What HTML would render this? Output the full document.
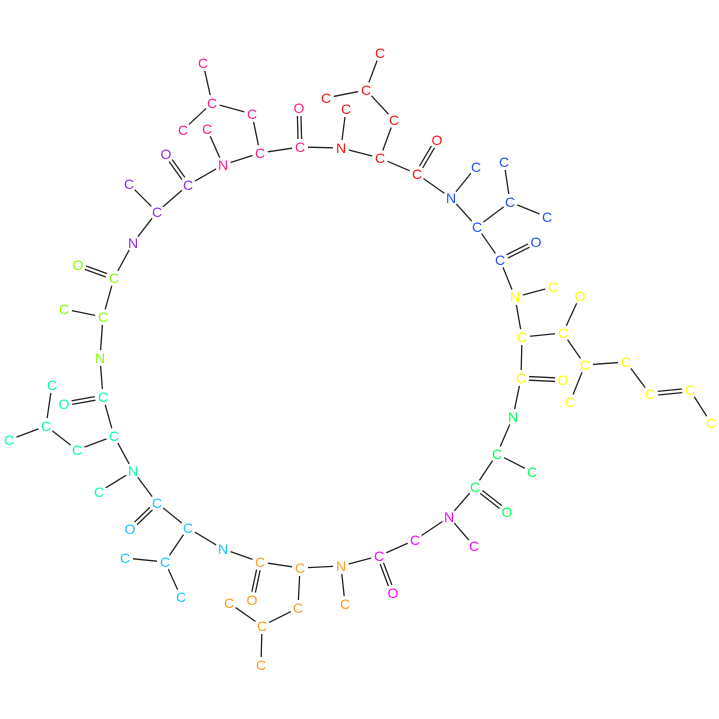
<!DOCTYPE html>
<html><head><meta charset="utf-8"><style>
html,body{margin:0;padding:0;background:#fff}
svg{display:block}
text{font-family:"Liberation Sans",sans-serif;font-size:14px}
</style></head><body>
<svg id="mol" width="719" height="719" viewBox="0 0 719 719"></svg>
<script>
const COL={p:'#ff1a8c',u:'#8a2be2',g:'#7fff00',c:'#00ffb4',b:'#1ec0ff',o:'#ff9a1e',m:'#ff00ff',gr:'#00ff50',y:'#ffff00',bl:'#1e50ff',r:'#ff1010'};
const atomIds=['pD1','pG','pD2','pB','pNMe','pN','pCa','pC','pO','uO','uC','uCa','uMe','uN','gC','gO','gCa','gMe','gN','cC','cO','cCa','cB','cG','cD1','cD2','cN','cMe','bC','bO','bCa','bN','bB','bG1','bG2','oC','oO','oCa','oN','oMe','oB','oG','oD1','oD2','mC','mO','mCa','mN','mMe','grC','grO','grCa','grMe','grN','yC','yO','yCa','yN','yNMe','yB','yBO','yG','yGMe','yD','yE','yZ','yH','blC','blO','blCa','blN','blNMe','blB','blG1','blG2','rC','rO','rCa','rN','rNMe','rB','rG','rD1','rD2'];
const atomX=[203,212,183,252,207,223,260,300,299,166,188,157,129,133,114,78,103,64,100,103,64,114,77,46,52,9,133,99,157,130,188,223,165,125,181,260,252,300,341,345,298,262,229,261,379,393,415,449,474,475,507,497,532,513,521,563,522,515,553,563,580,585,570,626,650,690,711,500,536,477,451,476,510,504,547,417,437,380,341,346,394,366,380,326];
const atomY=[63,103,130,114,129,165,153,147,108,154,185,212,184,243,278,265,317,309,358,397,404,436,450,426,385,440,471,492,503,529,528,549,562,558,597,562,600,568,566,604,608,626,603,665,556,593,540,517,546,487,512,454,472,417,378,380,337,297,287,333,296,365,402,362,394,390,423,260,242,227,198,167,202,162,217,174,140,158,148,109,120,90,53,98];
const atomEl=['C','C','C','C','C','N','C','C','O','O','C','C','C','N','C','O','C','C','N','C','O','C','C','C','C','C','N','C','C','O','C','N','C','C','C','C','O','C','N','C','C','C','C','C','C','O','C','N','C','C','O','C','C','N','C','O','C','N','C','C','O','C','C','C','C','C','C','C','O','C','N','C','C','C','C','C','O','C','N','C','C','C','C','C'];
const bonds=[['pD1','pG',1],['pG','pD2',1],['pG','pB',1],['pB','pCa',1],['pNMe','pN',1],['pN','pCa',1],['pCa','pC',1],['pC','pO',2],['pC','rN',1],['pN','uC',1],['uC','uO',2],['uC','uCa',1],['uCa','uMe',1],['uCa','uN',1],['uN','gC',1],['gC','gO',2],['gC','gCa',1],['gCa','gMe',1],['gCa','gN',1],['gN','cC',1],['cC','cO',2],['cC','cCa',1],['cCa','cB',1],['cB','cG',1],['cG','cD1',1],['cG','cD2',1],['cCa','cN',1],['cN','cMe',1],['cN','bC',1],['bC','bO',2],['bC','bCa',1],['bCa','bN',1],['bCa','bB',1],['bB','bG1',1],['bB','bG2',1],['bN','oC',1],['oC','oO',2],['oC','oCa',1],['oCa','oN',1],['oCa','oB',1],['oB','oG',1],['oG','oD1',1],['oG','oD2',1],['oN','oMe',1],['oN','mC',1],['mC','mO',2],['mC','mCa',1],['mCa','mN',1],['mN','mMe',1],['mN','grC',1],['grC','grO',2],['grC','grCa',1],['grCa','grMe',1],['grCa','grN',1],['grN','yC',1],['yC','yO',2],['yC','yCa',1],['yCa','yN',1],['yN','yNMe',1],['yCa','yB',1],['yB','yBO',1],['yB','yG',1],['yG','yGMe',1],['yG','yD',1],['yD','yE',1],['yE','yZ',2],['yZ','yH',1],['yN','blC',1],['blC','blO',2],['blC','blCa',1],['blCa','blN',1],['blCa','blB',1],['blB','blG1',1],['blB','blG2',1],['blN','blNMe',1],['blN','rC',1],['rC','rO',2],['rC','rCa',1],['rCa','rN',1],['rN','rNMe',1],['rCa','rB',1],['rB','rG',1],['rG','rD1',1],['rG','rD2',1]];
const svg=document.getElementById('mol');
const NS='http://www.w3.org/2000/svg';
function idx(id){return atomIds.indexOf(id);}
function colorOf(id){const k=id.startsWith('gr')?'gr':id.startsWith('bl')?'bl':id[0];return COL[k];}
function line(x1,y1,x2,y2){const l=document.createElementNS(NS,'line');


l.setAttribute('x1',x1);l.setAttribute('y1',y1);l.setAttribute('x2',x2);l.setAttribute('y2',y2);
l.setAttribute('stroke','#222');l.setAttribute('stroke-width','1.3');svg.appendChild(l);}
bonds.forEach(b=>{const a=idx(b[0]),c=idx(b[1]);
let x1=atomX[a],y1=atomY[a],x2=atomX[c],y2=atomY[c];
const dx=x2-x1,dy=y2-y1,L=Math.hypot(dx,dy),ux=dx/L,uy=dy/L,s=8;
x1+=ux*s;y1+=uy*s;x2-=ux*s;y2-=uy*s;
if(b[2]===2){const nx=-uy*1.8,ny=ux*1.8;line(x1+nx,y1+ny,x2+nx,y2+ny);line(x1-nx,y1-ny,x2-nx,y2-ny);}
else line(x1,y1,x2,y2);});
atomIds.forEach((id,i)=>{const t=document.createElementNS(NS,'text');


t.setAttribute('x',atomX[i]);t.setAttribute('y',atomY[i]+5);t.setAttribute('text-anchor','middle');
t.setAttribute('fill',colorOf(id));t.textContent=atomEl[i];svg.appendChild(t);});
</script>
</body></html>
